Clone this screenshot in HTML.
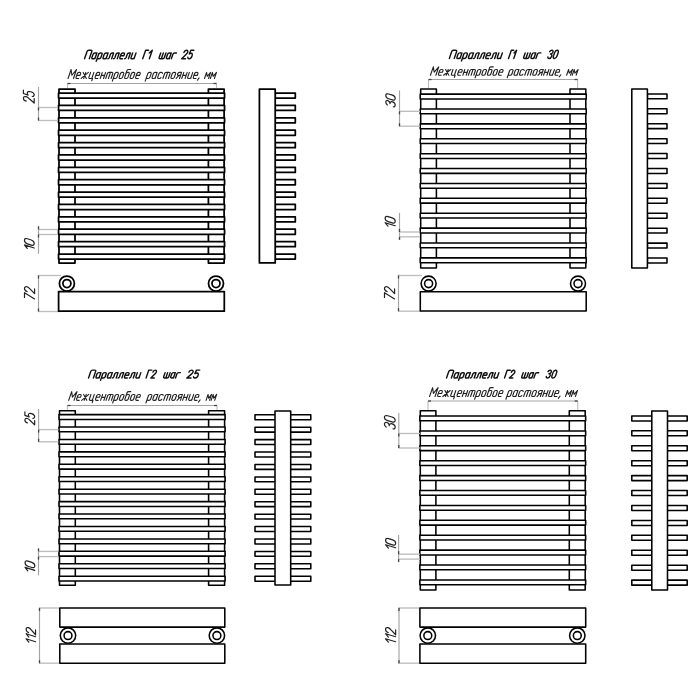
<!DOCTYPE html>
<html><head><meta charset="utf-8"><style>
html,body{margin:0;padding:0;background:#fff;width:700px;height:700px;overflow:hidden}
svg{display:block;will-change:transform}
text{font-family:"Liberation Sans",sans-serif;font-style:italic}
</style></head><body>
<svg width="700" height="700" viewBox="0 0 700 700">
<rect width="700" height="700" fill="#fff"/>
<g id="t1_0" transform="translate(84.52,58.80) skewX(-19) scale(0.9162,0.8600)" fill="none" stroke="#111" stroke-width="1.4" vector-effect="non-scaling-stroke" stroke-linecap="round" stroke-linejoin="round"><path vector-effect="non-scaling-stroke" transform="translate(0.00,0)" d="M0,0 V-8.5 Q0,-10 1.5,-10 H3.7 Q5.2,-10 5.2,-8.5 V0"/><path vector-effect="non-scaling-stroke" transform="translate(7.60,0)" d="M1.5,-6.8 H2.2 Q3.7,-6.8 3.7,-5.3 V-1.5 Q3.7,0 2.2,0 H1.5 Q0,0 0,-1.5 V-5.3 Q0,-6.8 1.5,-6.8 Z M3.7,-6.8 V0"/><path vector-effect="non-scaling-stroke" transform="translate(13.70,0)" d="M1.5,-6.8 H2.2 Q3.7,-6.8 3.7,-5.3 V-1.5 Q3.7,0 2.2,0 H1.5 Q0,0 0,-1.5 V-5.3 Q0,-6.8 1.5,-6.8 Z M0,-5.8 V3"/><path vector-effect="non-scaling-stroke" transform="translate(19.80,0)" d="M1.5,-6.8 H2.2 Q3.7,-6.8 3.7,-5.3 V-1.5 Q3.7,0 2.2,0 H1.5 Q0,0 0,-1.5 V-5.3 Q0,-6.8 1.5,-6.8 Z M3.7,-6.8 V0"/><path vector-effect="non-scaling-stroke" transform="translate(25.90,0)" d="M-0.4,0 Q0.6,0 0.7,-1.6 V-5.3 Q0.7,-6.8 2.2,-6.8 H3.7 V0"/><path vector-effect="non-scaling-stroke" transform="translate(32.00,0)" d="M-0.4,0 Q0.6,0 0.7,-1.6 V-5.3 Q0.7,-6.8 2.2,-6.8 H3.7 V0"/><path vector-effect="non-scaling-stroke" transform="translate(38.10,0)" d="M0.1,-3.5 H3.7 V-5.3 Q3.7,-6.8 2.2,-6.8 H1.5 Q0,-6.8 0,-5.3 V-1.5 Q0,0 1.5,0 H3.4000000000000004"/><path vector-effect="non-scaling-stroke" transform="translate(44.20,0)" d="M-0.4,0 Q0.6,0 0.7,-1.6 V-5.3 Q0.7,-6.8 2.2,-6.8 H3.7 V0"/><path vector-effect="non-scaling-stroke" transform="translate(50.30,0)" d="M0,-6.8 V-1.5 Q0,0 1.5,0 H2.2 Q3.7,0 3.7,-1.5 M3.7,-6.8 V0"/></g>
<g id="t1_1" transform="translate(142.70,58.80) skewX(-19) scale(0.6509,0.8600)" fill="none" stroke="#111" stroke-width="1.4" vector-effect="non-scaling-stroke" stroke-linecap="round" stroke-linejoin="round"><path vector-effect="non-scaling-stroke" transform="translate(0.00,0)" d="M0,0 V-10 H4.6"/><path vector-effect="non-scaling-stroke" transform="translate(7.00,0)" d="M0,-6.8 L3.2,-10 V0"/></g>
<g id="t1_2" transform="translate(158.70,58.80) skewX(-19) scale(0.8702,0.8600)" fill="none" stroke="#111" stroke-width="1.4" vector-effect="non-scaling-stroke" stroke-linecap="round" stroke-linejoin="round"><path vector-effect="non-scaling-stroke" transform="translate(0.00,0)" d="M0,-6.8 V-1.5 Q0,0 1.5,0 H4.5 Q6,0 6,-1.5 V-6.8 M3,-6.8 V0"/><path vector-effect="non-scaling-stroke" transform="translate(8.40,0)" d="M1.5,-6.8 H2.2 Q3.7,-6.8 3.7,-5.3 V-1.5 Q3.7,0 2.2,0 H1.5 Q0,0 0,-1.5 V-5.3 Q0,-6.8 1.5,-6.8 Z M3.7,-6.8 V0"/><path vector-effect="non-scaling-stroke" transform="translate(14.50,0)" d="M0,0 V-5.3 Q0,-6.8 1.5,-6.8 H3.6"/></g>
<g id="t1_3" transform="translate(181.70,58.80) skewX(-19) scale(0.7551,0.8600)" fill="none" stroke="#111" stroke-width="1.4" vector-effect="non-scaling-stroke" stroke-linecap="round" stroke-linejoin="round"><path vector-effect="non-scaling-stroke" transform="translate(0.00,0)" d="M0,-7.4 C0,-9 1.1,-10 2.5,-10 C3.9,-10 5,-9 5,-7.5 C5,-6.3 4.4,-5.5 3.6,-4.6 L0,0 H5"/><path vector-effect="non-scaling-stroke" transform="translate(7.40,0)" d="M4.8,-10 H0.9 L0.4,-5.6 C0.9,-6.1 1.7,-6.4 2.6,-6.4 C4.1,-6.4 5,-5.2 5,-3.2 C5,-1.2 3.9,0 2.5,0 C1.2,0 0.3,-0.7 0,-1.8"/></g>
<g id="s1_0" transform="translate(68.05,78.45) skewX(-19) scale(0.9005,0.8900)" fill="none" stroke="#222" stroke-width="1.1" vector-effect="non-scaling-stroke" stroke-linecap="round" stroke-linejoin="round"><path vector-effect="non-scaling-stroke" transform="translate(0.00,0)" d="M0,0 V-10 L3,-3.6 L6,-10 V0"/><path vector-effect="non-scaling-stroke" transform="translate(8.40,0)" d="M0.1,-3.5 H3.7 V-5.3 Q3.7,-6.8 2.2,-6.8 H1.5 Q0,-6.8 0,-5.3 V-1.5 Q0,0 1.5,0 H3.4000000000000004"/><path vector-effect="non-scaling-stroke" transform="translate(14.50,0)" d="M0,-6.8 L5.8,0 M5.8,-6.8 L0,0 M2.9,-6.8 V0"/><path vector-effect="non-scaling-stroke" transform="translate(22.70,0)" d="M0,-6.8 V-1.5 Q0,0 1.5,0 H4.5 M3.7,-6.8 V0 M4.5,0 V2.6"/><path vector-effect="non-scaling-stroke" transform="translate(29.60,0)" d="M0.1,-3.5 H3.7 V-5.3 Q3.7,-6.8 2.2,-6.8 H1.5 Q0,-6.8 0,-5.3 V-1.5 Q0,0 1.5,0 H3.4000000000000004"/><path vector-effect="non-scaling-stroke" transform="translate(35.70,0)" d="M0,-6.8 V0 M0,-3.4 H3.7 M3.7,-6.8 V0"/><path vector-effect="non-scaling-stroke" transform="translate(41.80,0)" d="M0,0 V-5.3 Q0,-6.8 1.5,-6.8 H4.5 Q6,-6.8 6,-5.3 V0 M3,-6.8 V0"/><path vector-effect="non-scaling-stroke" transform="translate(50.20,0)" d="M1.5,-6.8 H2.2 Q3.7,-6.8 3.7,-5.3 V-1.5 Q3.7,0 2.2,0 H1.5 Q0,0 0,-1.5 V-5.3 Q0,-6.8 1.5,-6.8 Z M0,-5.8 V3"/><path vector-effect="non-scaling-stroke" transform="translate(56.30,0)" d="M1.5,-6.8 H2.2 Q3.7,-6.8 3.7,-5.3 V-1.5 Q3.7,0 2.2,0 H1.5 Q0,0 0,-1.5 V-5.3 Q0,-6.8 1.5,-6.8 Z"/><path vector-effect="non-scaling-stroke" transform="translate(62.40,0)" d="M1.5,-6.8 H2.2 Q3.7,-6.8 3.7,-5.3 V-1.5 Q3.7,0 2.2,0 H1.5 Q0,0 0,-1.5 V-5.3 Q0,-6.8 1.5,-6.8 Z M0,-5.3 V-9 Q0,-10 1.5,-10 H3.7"/><path vector-effect="non-scaling-stroke" transform="translate(68.50,0)" d="M1.5,-6.8 H2.2 Q3.7,-6.8 3.7,-5.3 V-1.5 Q3.7,0 2.2,0 H1.5 Q0,0 0,-1.5 V-5.3 Q0,-6.8 1.5,-6.8 Z"/><path vector-effect="non-scaling-stroke" transform="translate(74.60,0)" d="M0.1,-3.5 H3.7 V-5.3 Q3.7,-6.8 2.2,-6.8 H1.5 Q0,-6.8 0,-5.3 V-1.5 Q0,0 1.5,0 H3.4000000000000004"/></g>
<g id="s1_1" transform="translate(146.13,78.45) skewX(-19) scale(0.9148,0.8900)" fill="none" stroke="#222" stroke-width="1.1" vector-effect="non-scaling-stroke" stroke-linecap="round" stroke-linejoin="round"><path vector-effect="non-scaling-stroke" transform="translate(0.00,0)" d="M1.5,-6.8 H2.2 Q3.7,-6.8 3.7,-5.3 V-1.5 Q3.7,0 2.2,0 H1.5 Q0,0 0,-1.5 V-5.3 Q0,-6.8 1.5,-6.8 Z M0,-5.8 V3"/><path vector-effect="non-scaling-stroke" transform="translate(6.10,0)" d="M1.5,-6.8 H2.2 Q3.7,-6.8 3.7,-5.3 V-1.5 Q3.7,0 2.2,0 H1.5 Q0,0 0,-1.5 V-5.3 Q0,-6.8 1.5,-6.8 Z M3.7,-6.8 V0"/><path vector-effect="non-scaling-stroke" transform="translate(12.20,0)" d="M3.7,-5.6 Q3.5,-6.8 2.2,-6.8 H1.5 Q0,-6.8 0,-5.3 V-1.5 Q0,0 1.5,0 H2.2 Q3.5,0 3.7,-1.2"/><path vector-effect="non-scaling-stroke" transform="translate(18.30,0)" d="M0,0 V-5.3 Q0,-6.8 1.5,-6.8 H4.5 Q6,-6.8 6,-5.3 V0 M3,-6.8 V0"/><path vector-effect="non-scaling-stroke" transform="translate(26.70,0)" d="M1.5,-6.8 H2.2 Q3.7,-6.8 3.7,-5.3 V-1.5 Q3.7,0 2.2,0 H1.5 Q0,0 0,-1.5 V-5.3 Q0,-6.8 1.5,-6.8 Z"/><path vector-effect="non-scaling-stroke" transform="translate(32.80,0)" d="M3.7,0 V-6.8 H1.5 Q0,-6.8 0,-5.3 V-4.8 Q0,-3.4 1.5,-3.4 H3.7 M2,-3.4 L0,0"/><path vector-effect="non-scaling-stroke" transform="translate(38.90,0)" d="M0,-6.8 V0 M0,-3.4 H3.7 M3.7,-6.8 V0"/><path vector-effect="non-scaling-stroke" transform="translate(45.00,0)" d="M0,-6.8 V-1.5 Q0,0 1.5,0 H2.2 Q3.7,0 3.7,-1.5 M3.7,-6.8 V0"/><path vector-effect="non-scaling-stroke" transform="translate(51.10,0)" d="M0.1,-3.5 H3.7 V-5.3 Q3.7,-6.8 2.2,-6.8 H1.5 Q0,-6.8 0,-5.3 V-1.5 Q0,0 1.5,0 H3.4000000000000004"/><path vector-effect="non-scaling-stroke" transform="translate(57.20,0)" d="M0.5,-0.6 L-0.5,2"/></g>
<g id="s1_2" transform="translate(204.49,78.45) skewX(-19) scale(0.7504,0.8900)" fill="none" stroke="#222" stroke-width="1.1" vector-effect="non-scaling-stroke" stroke-linecap="round" stroke-linejoin="round"><path vector-effect="non-scaling-stroke" transform="translate(0.00,0)" d="M0,0 V-6.8 L2.7,-2.4 L5.4,-6.8 V0"/><path vector-effect="non-scaling-stroke" transform="translate(7.80,0)" d="M0,0 V-6.8 L2.7,-2.4 L5.4,-6.8 V0"/></g>
<line x1="67.50" y1="83.50" x2="216.50" y2="83.50" stroke="#a4a4a4" stroke-width="1.15"/>
<line x1="67.50" y1="83.50" x2="67.50" y2="88.00" stroke="#bdbdbd" stroke-width="1.15"/>
<line x1="216.50" y1="83.50" x2="216.50" y2="88.00" stroke="#bdbdbd" stroke-width="1.15"/>
<line x1="67.50" y1="83.50" x2="70.50" y2="83.50" stroke="#444" stroke-width="1.3"/>
<line x1="213.50" y1="83.50" x2="216.50" y2="83.50" stroke="#444" stroke-width="1.3"/>
<rect x="59.00" y="89.00" width="16.00" height="174.00" fill="#fff" stroke="#000" stroke-width="1.75" stroke-linejoin="round"/>
<rect x="208.40" y="89.00" width="15.70" height="174.00" fill="#fff" stroke="#000" stroke-width="1.75" stroke-linejoin="round"/>
<path d="M58.55,93.00 H224.55 V98.10 H58.55 Z" fill="#fff" stroke="#000" stroke-width="1.75" stroke-linejoin="round"/>
<path d="M58.55,105.39 H224.55 V110.48 H58.55 Z" fill="#fff" stroke="#000" stroke-width="1.75" stroke-linejoin="round"/>
<path d="M58.55,117.77 H224.55 V122.87 H58.55 Z" fill="#fff" stroke="#000" stroke-width="1.75" stroke-linejoin="round"/>
<path d="M58.55,130.16 H224.55 V135.25 H58.55 Z" fill="#fff" stroke="#000" stroke-width="1.75" stroke-linejoin="round"/>
<path d="M58.55,142.54 H224.55 V147.64 H58.55 Z" fill="#fff" stroke="#000" stroke-width="1.75" stroke-linejoin="round"/>
<path d="M58.55,154.93 H224.55 V160.03 H58.55 Z" fill="#fff" stroke="#000" stroke-width="1.75" stroke-linejoin="round"/>
<path d="M58.55,167.31 H224.55 V172.41 H58.55 Z" fill="#fff" stroke="#000" stroke-width="1.75" stroke-linejoin="round"/>
<path d="M58.55,179.69 H224.55 V184.79 H58.55 Z" fill="#fff" stroke="#000" stroke-width="1.75" stroke-linejoin="round"/>
<path d="M58.55,192.08 H224.55 V197.18 H58.55 Z" fill="#fff" stroke="#000" stroke-width="1.75" stroke-linejoin="round"/>
<path d="M58.55,204.47 H224.55 V209.56 H58.55 Z" fill="#fff" stroke="#000" stroke-width="1.75" stroke-linejoin="round"/>
<path d="M58.55,216.85 H224.55 V221.95 H58.55 Z" fill="#fff" stroke="#000" stroke-width="1.75" stroke-linejoin="round"/>
<path d="M58.55,229.23 H224.55 V234.33 H58.55 Z" fill="#fff" stroke="#000" stroke-width="1.75" stroke-linejoin="round"/>
<path d="M58.55,241.62 H224.55 V246.72 H58.55 Z" fill="#fff" stroke="#000" stroke-width="1.75" stroke-linejoin="round"/>
<path d="M58.55,254.00 H224.55 V259.11 H58.55 Z" fill="#fff" stroke="#000" stroke-width="1.75" stroke-linejoin="round"/>
<path d="M275.20,93.00 H295.30 V98.10 H275.20 Z" fill="#fff" stroke="#000" stroke-width="1.75" stroke-linejoin="round"/>
<path d="M275.20,105.39 H295.30 V110.48 H275.20 Z" fill="#fff" stroke="#000" stroke-width="1.75" stroke-linejoin="round"/>
<path d="M275.20,117.77 H295.30 V122.87 H275.20 Z" fill="#fff" stroke="#000" stroke-width="1.75" stroke-linejoin="round"/>
<path d="M275.20,130.16 H295.30 V135.25 H275.20 Z" fill="#fff" stroke="#000" stroke-width="1.75" stroke-linejoin="round"/>
<path d="M275.20,142.54 H295.30 V147.64 H275.20 Z" fill="#fff" stroke="#000" stroke-width="1.75" stroke-linejoin="round"/>
<path d="M275.20,154.93 H295.30 V160.03 H275.20 Z" fill="#fff" stroke="#000" stroke-width="1.75" stroke-linejoin="round"/>
<path d="M275.20,167.31 H295.30 V172.41 H275.20 Z" fill="#fff" stroke="#000" stroke-width="1.75" stroke-linejoin="round"/>
<path d="M275.20,179.69 H295.30 V184.79 H275.20 Z" fill="#fff" stroke="#000" stroke-width="1.75" stroke-linejoin="round"/>
<path d="M275.20,192.08 H295.30 V197.18 H275.20 Z" fill="#fff" stroke="#000" stroke-width="1.75" stroke-linejoin="round"/>
<path d="M275.20,204.47 H295.30 V209.56 H275.20 Z" fill="#fff" stroke="#000" stroke-width="1.75" stroke-linejoin="round"/>
<path d="M275.20,216.85 H295.30 V221.95 H275.20 Z" fill="#fff" stroke="#000" stroke-width="1.75" stroke-linejoin="round"/>
<path d="M275.20,229.23 H295.30 V234.33 H275.20 Z" fill="#fff" stroke="#000" stroke-width="1.75" stroke-linejoin="round"/>
<path d="M275.20,241.62 H295.30 V246.72 H275.20 Z" fill="#fff" stroke="#000" stroke-width="1.75" stroke-linejoin="round"/>
<path d="M275.20,254.00 H295.30 V259.11 H275.20 Z" fill="#fff" stroke="#000" stroke-width="1.75" stroke-linejoin="round"/>
<rect x="259.40" y="89.00" width="15.80" height="173.90" fill="#fff" stroke="#000" stroke-width="1.75" stroke-linejoin="round"/>
<line x1="38.50" y1="87.00" x2="38.50" y2="120.50" stroke="#a4a4a4" stroke-width="1.15"/>
<line x1="38.00" y1="107.50" x2="58.00" y2="107.50" stroke="#bdbdbd" stroke-width="1.35"/>
<line x1="38.00" y1="120.50" x2="58.00" y2="120.50" stroke="#bdbdbd" stroke-width="1.35"/>
<line x1="38.50" y1="107.50" x2="38.50" y2="110.50" stroke="#444" stroke-width="1.3"/>
<line x1="38.50" y1="117.50" x2="38.50" y2="120.50" stroke="#444" stroke-width="1.3"/>
<line x1="38.50" y1="226.00" x2="38.50" y2="253.70" stroke="#a4a4a4" stroke-width="1.15"/>
<line x1="38.00" y1="229.50" x2="58.00" y2="229.50" stroke="#bdbdbd" stroke-width="1.35"/>
<line x1="38.00" y1="234.50" x2="58.00" y2="234.50" stroke="#bdbdbd" stroke-width="1.35"/>
<line x1="38.50" y1="226.50" x2="38.50" y2="229.50" stroke="#444" stroke-width="1.3"/>
<line x1="38.50" y1="234.50" x2="38.50" y2="237.50" stroke="#444" stroke-width="1.3"/>
<line x1="38.50" y1="275.00" x2="38.50" y2="311.60" stroke="#a4a4a4" stroke-width="1.15"/>
<line x1="38.00" y1="275.50" x2="61.00" y2="275.50" stroke="#bdbdbd" stroke-width="1.35"/>
<line x1="38.00" y1="311.50" x2="61.00" y2="311.50" stroke="#bdbdbd" stroke-width="1.35"/>
<line x1="38.50" y1="275.50" x2="38.50" y2="278.50" stroke="#444" stroke-width="1.3"/>
<line x1="38.50" y1="308.50" x2="38.50" y2="311.50" stroke="#444" stroke-width="1.3"/>
<g id="r1a" transform="translate(34.20,103.05) rotate(-90) scale(0.870,1.080) skewX(-17)" fill="none" stroke="#222" stroke-width="1.2" vector-effect="non-scaling-stroke" stroke-linecap="round" stroke-linejoin="round"><path vector-effect="non-scaling-stroke" transform="translate(0.00,0)" d="M0,-7.4 C0,-9 1.1,-10 2.5,-10 C3.9,-10 5,-9 5,-7.5 C5,-6.3 4.4,-5.5 3.6,-4.6 L0,0 H5"/><path vector-effect="non-scaling-stroke" transform="translate(7.00,0)" d="M4.8,-10 H0.9 L0.4,-5.6 C0.9,-6.1 1.7,-6.4 2.6,-6.4 C4.1,-6.4 5,-5.2 5,-3.2 C5,-1.2 3.9,0 2.5,0 C1.2,0 0.3,-0.7 0,-1.8"/></g>
<g id="r1b" transform="translate(34.20,251.30) rotate(-90) scale(1.020,0.975) skewX(-17)" fill="none" stroke="#222" stroke-width="1.2" vector-effect="non-scaling-stroke" stroke-linecap="round" stroke-linejoin="round"><path vector-effect="non-scaling-stroke" transform="translate(0.00,0)" d="M0.6,-7.2 L3.2,-10 V0"/><path vector-effect="non-scaling-stroke" transform="translate(5.20,0)" d="M2.5,-10 C4.3,-10 5,-8.6 5,-7 V-3 C5,-1.4 4.3,0 2.5,0 C0.7,0 0,-1.4 0,-3 V-7 C0,-8.6 0.7,-10 2.5,-10 Z"/></g>
<g id="r1c" transform="translate(34.60,300.30) rotate(-90) scale(0.945,1.010) skewX(-17)" fill="none" stroke="#222" stroke-width="1.2" vector-effect="non-scaling-stroke" stroke-linecap="round" stroke-linejoin="round"><path vector-effect="non-scaling-stroke" transform="translate(0.00,0)" d="M0,-10 H5 L1.4,0"/><path vector-effect="non-scaling-stroke" transform="translate(7.00,0)" d="M0,-7.4 C0,-9 1.1,-10 2.5,-10 C3.9,-10 5,-9 5,-7.5 C5,-6.3 4.4,-5.5 3.6,-4.6 L0,0 H5"/></g>
<rect x="58.60" y="291.60" width="165.70" height="19.60" fill="#fff" stroke="#000" stroke-width="1.75" stroke-linejoin="round"/>
<circle cx="66.90" cy="283.50" r="7.50" fill="#fff" stroke="#000" stroke-width="1.75"/>
<circle cx="66.90" cy="283.50" r="4.00" fill="#fff" stroke="#000" stroke-width="1.75"/>
<circle cx="216.00" cy="283.50" r="7.50" fill="#fff" stroke="#000" stroke-width="1.75"/>
<circle cx="216.00" cy="283.50" r="4.00" fill="#fff" stroke="#000" stroke-width="1.75"/>
<g id="t2_0" transform="translate(449.32,58.50) skewX(-19) scale(0.9464,0.8200)" fill="none" stroke="#111" stroke-width="1.4" vector-effect="non-scaling-stroke" stroke-linecap="round" stroke-linejoin="round"><path vector-effect="non-scaling-stroke" transform="translate(0.00,0)" d="M0,0 V-8.5 Q0,-10 1.5,-10 H3.7 Q5.2,-10 5.2,-8.5 V0"/><path vector-effect="non-scaling-stroke" transform="translate(7.60,0)" d="M1.5,-6.8 H2.2 Q3.7,-6.8 3.7,-5.3 V-1.5 Q3.7,0 2.2,0 H1.5 Q0,0 0,-1.5 V-5.3 Q0,-6.8 1.5,-6.8 Z M3.7,-6.8 V0"/><path vector-effect="non-scaling-stroke" transform="translate(13.70,0)" d="M1.5,-6.8 H2.2 Q3.7,-6.8 3.7,-5.3 V-1.5 Q3.7,0 2.2,0 H1.5 Q0,0 0,-1.5 V-5.3 Q0,-6.8 1.5,-6.8 Z M0,-5.8 V3"/><path vector-effect="non-scaling-stroke" transform="translate(19.80,0)" d="M1.5,-6.8 H2.2 Q3.7,-6.8 3.7,-5.3 V-1.5 Q3.7,0 2.2,0 H1.5 Q0,0 0,-1.5 V-5.3 Q0,-6.8 1.5,-6.8 Z M3.7,-6.8 V0"/><path vector-effect="non-scaling-stroke" transform="translate(25.90,0)" d="M-0.4,0 Q0.6,0 0.7,-1.6 V-5.3 Q0.7,-6.8 2.2,-6.8 H3.7 V0"/><path vector-effect="non-scaling-stroke" transform="translate(32.00,0)" d="M-0.4,0 Q0.6,0 0.7,-1.6 V-5.3 Q0.7,-6.8 2.2,-6.8 H3.7 V0"/><path vector-effect="non-scaling-stroke" transform="translate(38.10,0)" d="M0.1,-3.5 H3.7 V-5.3 Q3.7,-6.8 2.2,-6.8 H1.5 Q0,-6.8 0,-5.3 V-1.5 Q0,0 1.5,0 H3.4000000000000004"/><path vector-effect="non-scaling-stroke" transform="translate(44.20,0)" d="M-0.4,0 Q0.6,0 0.7,-1.6 V-5.3 Q0.7,-6.8 2.2,-6.8 H3.7 V0"/><path vector-effect="non-scaling-stroke" transform="translate(50.30,0)" d="M0,-6.8 V-1.5 Q0,0 1.5,0 H2.2 Q3.7,0 3.7,-1.5 M3.7,-6.8 V0"/></g>
<g id="t2_1" transform="translate(508.52,58.50) skewX(-19) scale(0.5173,0.8200)" fill="none" stroke="#111" stroke-width="1.4" vector-effect="non-scaling-stroke" stroke-linecap="round" stroke-linejoin="round"><path vector-effect="non-scaling-stroke" transform="translate(0.00,0)" d="M0,0 V-10 H4.6"/><path vector-effect="non-scaling-stroke" transform="translate(7.00,0)" d="M0,-6.8 L3.2,-10 V0"/></g>
<g id="t2_2" transform="translate(523.26,58.50) skewX(-19) scale(0.8696,0.8200)" fill="none" stroke="#111" stroke-width="1.4" vector-effect="non-scaling-stroke" stroke-linecap="round" stroke-linejoin="round"><path vector-effect="non-scaling-stroke" transform="translate(0.00,0)" d="M0,-6.8 V-1.5 Q0,0 1.5,0 H4.5 Q6,0 6,-1.5 V-6.8 M3,-6.8 V0"/><path vector-effect="non-scaling-stroke" transform="translate(8.40,0)" d="M1.5,-6.8 H2.2 Q3.7,-6.8 3.7,-5.3 V-1.5 Q3.7,0 2.2,0 H1.5 Q0,0 0,-1.5 V-5.3 Q0,-6.8 1.5,-6.8 Z M3.7,-6.8 V0"/><path vector-effect="non-scaling-stroke" transform="translate(14.50,0)" d="M0,0 V-5.3 Q0,-6.8 1.5,-6.8 H3.6"/></g>
<g id="t2_3" transform="translate(547.32,58.50) skewX(-19) scale(0.7141,0.8200)" fill="none" stroke="#111" stroke-width="1.4" vector-effect="non-scaling-stroke" stroke-linecap="round" stroke-linejoin="round"><path vector-effect="non-scaling-stroke" transform="translate(0.00,0)" d="M0,-8.3 C0.3,-9.4 1.2,-10 2.5,-10 C3.9,-10 4.8,-9.1 4.8,-7.8 C4.8,-6.4 3.8,-5.5 2.3,-5.5 C4,-5.5 5,-4.3 5,-2.8 C5,-1.1 3.9,0 2.5,0 C1.1,0 0.2,-0.8 0,-2"/><path vector-effect="non-scaling-stroke" transform="translate(7.40,0)" d="M2.5,-10 C4.3,-10 5,-8.6 5,-7 V-3 C5,-1.4 4.3,0 2.5,0 C0.7,0 0,-1.4 0,-3 V-7 C0,-8.6 0.7,-10 2.5,-10 Z"/></g>
<g id="s2_0" transform="translate(430.43,75.25) skewX(-19) scale(0.9073,0.8400)" fill="none" stroke="#222" stroke-width="1.1" vector-effect="non-scaling-stroke" stroke-linecap="round" stroke-linejoin="round"><path vector-effect="non-scaling-stroke" transform="translate(0.00,0)" d="M0,0 V-10 L3,-3.6 L6,-10 V0"/><path vector-effect="non-scaling-stroke" transform="translate(8.40,0)" d="M0.1,-3.5 H3.7 V-5.3 Q3.7,-6.8 2.2,-6.8 H1.5 Q0,-6.8 0,-5.3 V-1.5 Q0,0 1.5,0 H3.4000000000000004"/><path vector-effect="non-scaling-stroke" transform="translate(14.50,0)" d="M0,-6.8 L5.8,0 M5.8,-6.8 L0,0 M2.9,-6.8 V0"/><path vector-effect="non-scaling-stroke" transform="translate(22.70,0)" d="M0,-6.8 V-1.5 Q0,0 1.5,0 H4.5 M3.7,-6.8 V0 M4.5,0 V2.6"/><path vector-effect="non-scaling-stroke" transform="translate(29.60,0)" d="M0.1,-3.5 H3.7 V-5.3 Q3.7,-6.8 2.2,-6.8 H1.5 Q0,-6.8 0,-5.3 V-1.5 Q0,0 1.5,0 H3.4000000000000004"/><path vector-effect="non-scaling-stroke" transform="translate(35.70,0)" d="M0,-6.8 V0 M0,-3.4 H3.7 M3.7,-6.8 V0"/><path vector-effect="non-scaling-stroke" transform="translate(41.80,0)" d="M0,0 V-5.3 Q0,-6.8 1.5,-6.8 H4.5 Q6,-6.8 6,-5.3 V0 M3,-6.8 V0"/><path vector-effect="non-scaling-stroke" transform="translate(50.20,0)" d="M1.5,-6.8 H2.2 Q3.7,-6.8 3.7,-5.3 V-1.5 Q3.7,0 2.2,0 H1.5 Q0,0 0,-1.5 V-5.3 Q0,-6.8 1.5,-6.8 Z M0,-5.8 V3"/><path vector-effect="non-scaling-stroke" transform="translate(56.30,0)" d="M1.5,-6.8 H2.2 Q3.7,-6.8 3.7,-5.3 V-1.5 Q3.7,0 2.2,0 H1.5 Q0,0 0,-1.5 V-5.3 Q0,-6.8 1.5,-6.8 Z"/><path vector-effect="non-scaling-stroke" transform="translate(62.40,0)" d="M1.5,-6.8 H2.2 Q3.7,-6.8 3.7,-5.3 V-1.5 Q3.7,0 2.2,0 H1.5 Q0,0 0,-1.5 V-5.3 Q0,-6.8 1.5,-6.8 Z M0,-5.3 V-9 Q0,-10 1.5,-10 H3.7"/><path vector-effect="non-scaling-stroke" transform="translate(68.50,0)" d="M1.5,-6.8 H2.2 Q3.7,-6.8 3.7,-5.3 V-1.5 Q3.7,0 2.2,0 H1.5 Q0,0 0,-1.5 V-5.3 Q0,-6.8 1.5,-6.8 Z"/><path vector-effect="non-scaling-stroke" transform="translate(74.60,0)" d="M0.1,-3.5 H3.7 V-5.3 Q3.7,-6.8 2.2,-6.8 H1.5 Q0,-6.8 0,-5.3 V-1.5 Q0,0 1.5,0 H3.4000000000000004"/></g>
<g id="s2_1" transform="translate(508.07,75.25) skewX(-19) scale(0.9119,0.8400)" fill="none" stroke="#222" stroke-width="1.1" vector-effect="non-scaling-stroke" stroke-linecap="round" stroke-linejoin="round"><path vector-effect="non-scaling-stroke" transform="translate(0.00,0)" d="M1.5,-6.8 H2.2 Q3.7,-6.8 3.7,-5.3 V-1.5 Q3.7,0 2.2,0 H1.5 Q0,0 0,-1.5 V-5.3 Q0,-6.8 1.5,-6.8 Z M0,-5.8 V3"/><path vector-effect="non-scaling-stroke" transform="translate(6.10,0)" d="M1.5,-6.8 H2.2 Q3.7,-6.8 3.7,-5.3 V-1.5 Q3.7,0 2.2,0 H1.5 Q0,0 0,-1.5 V-5.3 Q0,-6.8 1.5,-6.8 Z M3.7,-6.8 V0"/><path vector-effect="non-scaling-stroke" transform="translate(12.20,0)" d="M3.7,-5.6 Q3.5,-6.8 2.2,-6.8 H1.5 Q0,-6.8 0,-5.3 V-1.5 Q0,0 1.5,0 H2.2 Q3.5,0 3.7,-1.2"/><path vector-effect="non-scaling-stroke" transform="translate(18.30,0)" d="M0,0 V-5.3 Q0,-6.8 1.5,-6.8 H4.5 Q6,-6.8 6,-5.3 V0 M3,-6.8 V0"/><path vector-effect="non-scaling-stroke" transform="translate(26.70,0)" d="M1.5,-6.8 H2.2 Q3.7,-6.8 3.7,-5.3 V-1.5 Q3.7,0 2.2,0 H1.5 Q0,0 0,-1.5 V-5.3 Q0,-6.8 1.5,-6.8 Z"/><path vector-effect="non-scaling-stroke" transform="translate(32.80,0)" d="M3.7,0 V-6.8 H1.5 Q0,-6.8 0,-5.3 V-4.8 Q0,-3.4 1.5,-3.4 H3.7 M2,-3.4 L0,0"/><path vector-effect="non-scaling-stroke" transform="translate(38.90,0)" d="M0,-6.8 V0 M0,-3.4 H3.7 M3.7,-6.8 V0"/><path vector-effect="non-scaling-stroke" transform="translate(45.00,0)" d="M0,-6.8 V-1.5 Q0,0 1.5,0 H2.2 Q3.7,0 3.7,-1.5 M3.7,-6.8 V0"/><path vector-effect="non-scaling-stroke" transform="translate(51.10,0)" d="M0.1,-3.5 H3.7 V-5.3 Q3.7,-6.8 2.2,-6.8 H1.5 Q0,-6.8 0,-5.3 V-1.5 Q0,0 1.5,0 H3.4000000000000004"/><path vector-effect="non-scaling-stroke" transform="translate(57.20,0)" d="M0.5,-0.6 L-0.5,2"/></g>
<g id="s2_2" transform="translate(566.61,75.25) skewX(-19) scale(0.7219,0.8400)" fill="none" stroke="#222" stroke-width="1.1" vector-effect="non-scaling-stroke" stroke-linecap="round" stroke-linejoin="round"><path vector-effect="non-scaling-stroke" transform="translate(0.00,0)" d="M0,0 V-6.8 L2.7,-2.4 L5.4,-6.8 V0"/><path vector-effect="non-scaling-stroke" transform="translate(7.80,0)" d="M0,0 V-6.8 L2.7,-2.4 L5.4,-6.8 V0"/></g>
<line x1="428.50" y1="79.50" x2="577.60" y2="79.50" stroke="#a4a4a4" stroke-width="1.15"/>
<line x1="428.50" y1="79.50" x2="428.50" y2="88.00" stroke="#bdbdbd" stroke-width="1.15"/>
<line x1="577.60" y1="79.50" x2="577.60" y2="88.00" stroke="#bdbdbd" stroke-width="1.15"/>
<line x1="428.50" y1="79.50" x2="431.50" y2="79.50" stroke="#444" stroke-width="1.3"/>
<line x1="574.60" y1="79.50" x2="577.60" y2="79.50" stroke="#444" stroke-width="1.3"/>
<rect x="420.70" y="88.90" width="15.70" height="179.10" fill="#fff" stroke="#000" stroke-width="1.55" stroke-linejoin="round"/>
<rect x="570.00" y="88.90" width="15.80" height="179.10" fill="#fff" stroke="#000" stroke-width="1.55" stroke-linejoin="round"/>
<path d="M420.25,94.10 H586.25 V98.90 H420.25 Z" fill="#fff" stroke="#000" stroke-width="1.55" stroke-linejoin="round"/>
<path d="M420.25,108.99 H586.25 V113.79 H420.25 Z" fill="#fff" stroke="#000" stroke-width="1.55" stroke-linejoin="round"/>
<path d="M420.25,123.88 H586.25 V128.68 H420.25 Z" fill="#fff" stroke="#000" stroke-width="1.55" stroke-linejoin="round"/>
<path d="M420.25,138.77 H586.25 V143.57 H420.25 Z" fill="#fff" stroke="#000" stroke-width="1.55" stroke-linejoin="round"/>
<path d="M420.25,153.66 H586.25 V158.46 H420.25 Z" fill="#fff" stroke="#000" stroke-width="1.55" stroke-linejoin="round"/>
<path d="M420.25,168.55 H586.25 V173.35 H420.25 Z" fill="#fff" stroke="#000" stroke-width="1.55" stroke-linejoin="round"/>
<path d="M420.25,183.44 H586.25 V188.24 H420.25 Z" fill="#fff" stroke="#000" stroke-width="1.55" stroke-linejoin="round"/>
<path d="M420.25,198.33 H586.25 V203.13 H420.25 Z" fill="#fff" stroke="#000" stroke-width="1.55" stroke-linejoin="round"/>
<path d="M420.25,213.22 H586.25 V218.02 H420.25 Z" fill="#fff" stroke="#000" stroke-width="1.55" stroke-linejoin="round"/>
<path d="M420.25,228.11 H586.25 V232.91 H420.25 Z" fill="#fff" stroke="#000" stroke-width="1.55" stroke-linejoin="round"/>
<path d="M420.25,243.00 H586.25 V247.80 H420.25 Z" fill="#fff" stroke="#000" stroke-width="1.55" stroke-linejoin="round"/>
<path d="M420.25,257.89 H586.25 V262.69 H420.25 Z" fill="#fff" stroke="#000" stroke-width="1.55" stroke-linejoin="round"/>
<path d="M647.40,93.90 H667.00 V98.80 H647.40 Z" fill="#fff" stroke="#000" stroke-width="1.55" stroke-linejoin="round"/>
<path d="M647.40,108.82 H667.00 V113.72 H647.40 Z" fill="#fff" stroke="#000" stroke-width="1.55" stroke-linejoin="round"/>
<path d="M647.40,123.74 H667.00 V128.64 H647.40 Z" fill="#fff" stroke="#000" stroke-width="1.55" stroke-linejoin="round"/>
<path d="M647.40,138.66 H667.00 V143.56 H647.40 Z" fill="#fff" stroke="#000" stroke-width="1.55" stroke-linejoin="round"/>
<path d="M647.40,153.58 H667.00 V158.48 H647.40 Z" fill="#fff" stroke="#000" stroke-width="1.55" stroke-linejoin="round"/>
<path d="M647.40,168.50 H667.00 V173.40 H647.40 Z" fill="#fff" stroke="#000" stroke-width="1.55" stroke-linejoin="round"/>
<path d="M647.40,183.42 H667.00 V188.32 H647.40 Z" fill="#fff" stroke="#000" stroke-width="1.55" stroke-linejoin="round"/>
<path d="M647.40,198.34 H667.00 V203.24 H647.40 Z" fill="#fff" stroke="#000" stroke-width="1.55" stroke-linejoin="round"/>
<path d="M647.40,213.26 H667.00 V218.16 H647.40 Z" fill="#fff" stroke="#000" stroke-width="1.55" stroke-linejoin="round"/>
<path d="M647.40,228.18 H667.00 V233.08 H647.40 Z" fill="#fff" stroke="#000" stroke-width="1.55" stroke-linejoin="round"/>
<path d="M647.40,243.10 H667.00 V248.00 H647.40 Z" fill="#fff" stroke="#000" stroke-width="1.55" stroke-linejoin="round"/>
<path d="M647.40,258.02 H667.00 V262.92 H647.40 Z" fill="#fff" stroke="#000" stroke-width="1.55" stroke-linejoin="round"/>
<rect x="631.80" y="89.00" width="15.60" height="179.00" fill="#fff" stroke="#000" stroke-width="1.55" stroke-linejoin="round"/>
<line x1="399.50" y1="90.50" x2="399.50" y2="126.50" stroke="#a4a4a4" stroke-width="1.15"/>
<line x1="399.00" y1="111.30" x2="420.00" y2="111.30" stroke="#bdbdbd" stroke-width="1.35"/>
<line x1="399.00" y1="126.20" x2="420.00" y2="126.20" stroke="#bdbdbd" stroke-width="1.35"/>
<line x1="399.50" y1="111.30" x2="399.50" y2="114.30" stroke="#444" stroke-width="1.3"/>
<line x1="399.50" y1="123.20" x2="399.50" y2="126.20" stroke="#444" stroke-width="1.3"/>
<line x1="399.50" y1="213.00" x2="399.50" y2="240.00" stroke="#a4a4a4" stroke-width="1.15"/>
<line x1="399.00" y1="232.00" x2="420.00" y2="232.00" stroke="#bdbdbd" stroke-width="1.35"/>
<line x1="399.00" y1="236.80" x2="420.00" y2="236.80" stroke="#bdbdbd" stroke-width="1.35"/>
<line x1="399.50" y1="229.00" x2="399.50" y2="232.00" stroke="#444" stroke-width="1.3"/>
<line x1="399.50" y1="236.80" x2="399.50" y2="239.80" stroke="#444" stroke-width="1.3"/>
<line x1="398.50" y1="274.90" x2="398.50" y2="311.70" stroke="#a4a4a4" stroke-width="1.15"/>
<line x1="398.00" y1="275.50" x2="422.00" y2="275.50" stroke="#bdbdbd" stroke-width="1.35"/>
<line x1="398.00" y1="311.20" x2="422.00" y2="311.20" stroke="#bdbdbd" stroke-width="1.35"/>
<line x1="398.50" y1="275.50" x2="398.50" y2="278.50" stroke="#444" stroke-width="1.3"/>
<line x1="398.50" y1="308.20" x2="398.50" y2="311.20" stroke="#444" stroke-width="1.3"/>
<g id="r2a" transform="translate(395.20,107.35) rotate(-90) scale(0.945,0.940) skewX(-17)" fill="none" stroke="#222" stroke-width="1.2" vector-effect="non-scaling-stroke" stroke-linecap="round" stroke-linejoin="round"><path vector-effect="non-scaling-stroke" transform="translate(0.00,0)" d="M0,-8.3 C0.3,-9.4 1.2,-10 2.5,-10 C3.9,-10 4.8,-9.1 4.8,-7.8 C4.8,-6.4 3.8,-5.5 2.3,-5.5 C4,-5.5 5,-4.3 5,-2.8 C5,-1.1 3.9,0 2.5,0 C1.1,0 0.2,-0.8 0,-2"/><path vector-effect="non-scaling-stroke" transform="translate(7.00,0)" d="M2.5,-10 C4.3,-10 5,-8.6 5,-7 V-3 C5,-1.4 4.3,0 2.5,0 C0.7,0 0,-1.4 0,-3 V-7 C0,-8.6 0.7,-10 2.5,-10 Z"/></g>
<g id="r2b" transform="translate(395.20,228.95) rotate(-90) scale(0.995,1.010) skewX(-17)" fill="none" stroke="#222" stroke-width="1.2" vector-effect="non-scaling-stroke" stroke-linecap="round" stroke-linejoin="round"><path vector-effect="non-scaling-stroke" transform="translate(0.00,0)" d="M0.6,-7.2 L3.2,-10 V0"/><path vector-effect="non-scaling-stroke" transform="translate(5.20,0)" d="M2.5,-10 C4.3,-10 5,-8.6 5,-7 V-3 C5,-1.4 4.3,0 2.5,0 C0.7,0 0,-1.4 0,-3 V-7 C0,-8.6 0.7,-10 2.5,-10 Z"/></g>
<g id="r2c" transform="translate(394.60,300.30) rotate(-90) scale(0.945,1.010) skewX(-17)" fill="none" stroke="#222" stroke-width="1.2" vector-effect="non-scaling-stroke" stroke-linecap="round" stroke-linejoin="round"><path vector-effect="non-scaling-stroke" transform="translate(0.00,0)" d="M0,-10 H5 L1.4,0"/><path vector-effect="non-scaling-stroke" transform="translate(7.00,0)" d="M0,-7.4 C0,-9 1.1,-10 2.5,-10 C3.9,-10 5,-9 5,-7.5 C5,-6.3 4.4,-5.5 3.6,-4.6 L0,0 H5"/></g>
<rect x="420.30" y="291.80" width="165.90" height="19.10" fill="#fff" stroke="#000" stroke-width="1.55" stroke-linejoin="round"/>
<circle cx="428.60" cy="283.60" r="7.50" fill="#fff" stroke="#000" stroke-width="1.55"/>
<circle cx="428.60" cy="283.60" r="4.00" fill="#fff" stroke="#000" stroke-width="1.55"/>
<circle cx="578.00" cy="283.60" r="7.50" fill="#fff" stroke="#000" stroke-width="1.55"/>
<circle cx="578.00" cy="283.60" r="4.00" fill="#fff" stroke="#000" stroke-width="1.55"/>
<g id="t3_0" transform="translate(88.52,378.00) skewX(-19) scale(0.9345,0.7900)" fill="none" stroke="#111" stroke-width="1.4" vector-effect="non-scaling-stroke" stroke-linecap="round" stroke-linejoin="round"><path vector-effect="non-scaling-stroke" transform="translate(0.00,0)" d="M0,0 V-8.5 Q0,-10 1.5,-10 H3.7 Q5.2,-10 5.2,-8.5 V0"/><path vector-effect="non-scaling-stroke" transform="translate(7.60,0)" d="M1.5,-6.8 H2.2 Q3.7,-6.8 3.7,-5.3 V-1.5 Q3.7,0 2.2,0 H1.5 Q0,0 0,-1.5 V-5.3 Q0,-6.8 1.5,-6.8 Z M3.7,-6.8 V0"/><path vector-effect="non-scaling-stroke" transform="translate(13.70,0)" d="M1.5,-6.8 H2.2 Q3.7,-6.8 3.7,-5.3 V-1.5 Q3.7,0 2.2,0 H1.5 Q0,0 0,-1.5 V-5.3 Q0,-6.8 1.5,-6.8 Z M0,-5.8 V3"/><path vector-effect="non-scaling-stroke" transform="translate(19.80,0)" d="M1.5,-6.8 H2.2 Q3.7,-6.8 3.7,-5.3 V-1.5 Q3.7,0 2.2,0 H1.5 Q0,0 0,-1.5 V-5.3 Q0,-6.8 1.5,-6.8 Z M3.7,-6.8 V0"/><path vector-effect="non-scaling-stroke" transform="translate(25.90,0)" d="M-0.4,0 Q0.6,0 0.7,-1.6 V-5.3 Q0.7,-6.8 2.2,-6.8 H3.7 V0"/><path vector-effect="non-scaling-stroke" transform="translate(32.00,0)" d="M-0.4,0 Q0.6,0 0.7,-1.6 V-5.3 Q0.7,-6.8 2.2,-6.8 H3.7 V0"/><path vector-effect="non-scaling-stroke" transform="translate(38.10,0)" d="M0.1,-3.5 H3.7 V-5.3 Q3.7,-6.8 2.2,-6.8 H1.5 Q0,-6.8 0,-5.3 V-1.5 Q0,0 1.5,0 H3.4000000000000004"/><path vector-effect="non-scaling-stroke" transform="translate(44.20,0)" d="M-0.4,0 Q0.6,0 0.7,-1.6 V-5.3 Q0.7,-6.8 2.2,-6.8 H3.7 V0"/><path vector-effect="non-scaling-stroke" transform="translate(50.30,0)" d="M0,-6.8 V-1.5 Q0,0 1.5,0 H2.2 Q3.7,0 3.7,-1.5 M3.7,-6.8 V0"/></g>
<g id="t3_1" transform="translate(146.08,378.00) skewX(-19) scale(0.6843,0.7900)" fill="none" stroke="#111" stroke-width="1.4" vector-effect="non-scaling-stroke" stroke-linecap="round" stroke-linejoin="round"><path vector-effect="non-scaling-stroke" transform="translate(0.00,0)" d="M0,0 V-10 H4.6"/><path vector-effect="non-scaling-stroke" transform="translate(7.00,0)" d="M0,-7.4 C0,-9 1.1,-10 2.5,-10 C3.9,-10 5,-9 5,-7.5 C5,-6.3 4.4,-5.5 3.6,-4.6 L0,0 H5"/></g>
<g id="t3_2" transform="translate(163.26,378.00) skewX(-19) scale(0.8439,0.7900)" fill="none" stroke="#111" stroke-width="1.4" vector-effect="non-scaling-stroke" stroke-linecap="round" stroke-linejoin="round"><path vector-effect="non-scaling-stroke" transform="translate(0.00,0)" d="M0,-6.8 V-1.5 Q0,0 1.5,0 H4.5 Q6,0 6,-1.5 V-6.8 M3,-6.8 V0"/><path vector-effect="non-scaling-stroke" transform="translate(8.40,0)" d="M1.5,-6.8 H2.2 Q3.7,-6.8 3.7,-5.3 V-1.5 Q3.7,0 2.2,0 H1.5 Q0,0 0,-1.5 V-5.3 Q0,-6.8 1.5,-6.8 Z M3.7,-6.8 V0"/><path vector-effect="non-scaling-stroke" transform="translate(14.50,0)" d="M0,0 V-5.3 Q0,-6.8 1.5,-6.8 H3.6"/></g>
<g id="t3_3" transform="translate(186.82,378.00) skewX(-19) scale(0.8384,0.7900)" fill="none" stroke="#111" stroke-width="1.4" vector-effect="non-scaling-stroke" stroke-linecap="round" stroke-linejoin="round"><path vector-effect="non-scaling-stroke" transform="translate(0.00,0)" d="M0,-7.4 C0,-9 1.1,-10 2.5,-10 C3.9,-10 5,-9 5,-7.5 C5,-6.3 4.4,-5.5 3.6,-4.6 L0,0 H5"/><path vector-effect="non-scaling-stroke" transform="translate(7.40,0)" d="M4.8,-10 H0.9 L0.4,-5.6 C0.9,-6.1 1.7,-6.4 2.6,-6.4 C4.1,-6.4 5,-5.2 5,-3.2 C5,-1.2 3.9,0 2.5,0 C1.2,0 0.3,-0.7 0,-1.8"/></g>
<g id="s3_0" transform="translate(68.67,400.35) skewX(-19) scale(0.8942,0.8700)" fill="none" stroke="#222" stroke-width="1.1" vector-effect="non-scaling-stroke" stroke-linecap="round" stroke-linejoin="round"><path vector-effect="non-scaling-stroke" transform="translate(0.00,0)" d="M0,0 V-10 L3,-3.6 L6,-10 V0"/><path vector-effect="non-scaling-stroke" transform="translate(8.40,0)" d="M0.1,-3.5 H3.7 V-5.3 Q3.7,-6.8 2.2,-6.8 H1.5 Q0,-6.8 0,-5.3 V-1.5 Q0,0 1.5,0 H3.4000000000000004"/><path vector-effect="non-scaling-stroke" transform="translate(14.50,0)" d="M0,-6.8 L5.8,0 M5.8,-6.8 L0,0 M2.9,-6.8 V0"/><path vector-effect="non-scaling-stroke" transform="translate(22.70,0)" d="M0,-6.8 V-1.5 Q0,0 1.5,0 H4.5 M3.7,-6.8 V0 M4.5,0 V2.6"/><path vector-effect="non-scaling-stroke" transform="translate(29.60,0)" d="M0.1,-3.5 H3.7 V-5.3 Q3.7,-6.8 2.2,-6.8 H1.5 Q0,-6.8 0,-5.3 V-1.5 Q0,0 1.5,0 H3.4000000000000004"/><path vector-effect="non-scaling-stroke" transform="translate(35.70,0)" d="M0,-6.8 V0 M0,-3.4 H3.7 M3.7,-6.8 V0"/><path vector-effect="non-scaling-stroke" transform="translate(41.80,0)" d="M0,0 V-5.3 Q0,-6.8 1.5,-6.8 H4.5 Q6,-6.8 6,-5.3 V0 M3,-6.8 V0"/><path vector-effect="non-scaling-stroke" transform="translate(50.20,0)" d="M1.5,-6.8 H2.2 Q3.7,-6.8 3.7,-5.3 V-1.5 Q3.7,0 2.2,0 H1.5 Q0,0 0,-1.5 V-5.3 Q0,-6.8 1.5,-6.8 Z M0,-5.8 V3"/><path vector-effect="non-scaling-stroke" transform="translate(56.30,0)" d="M1.5,-6.8 H2.2 Q3.7,-6.8 3.7,-5.3 V-1.5 Q3.7,0 2.2,0 H1.5 Q0,0 0,-1.5 V-5.3 Q0,-6.8 1.5,-6.8 Z"/><path vector-effect="non-scaling-stroke" transform="translate(62.40,0)" d="M1.5,-6.8 H2.2 Q3.7,-6.8 3.7,-5.3 V-1.5 Q3.7,0 2.2,0 H1.5 Q0,0 0,-1.5 V-5.3 Q0,-6.8 1.5,-6.8 Z M0,-5.3 V-9 Q0,-10 1.5,-10 H3.7"/><path vector-effect="non-scaling-stroke" transform="translate(68.50,0)" d="M1.5,-6.8 H2.2 Q3.7,-6.8 3.7,-5.3 V-1.5 Q3.7,0 2.2,0 H1.5 Q0,0 0,-1.5 V-5.3 Q0,-6.8 1.5,-6.8 Z"/><path vector-effect="non-scaling-stroke" transform="translate(74.60,0)" d="M0.1,-3.5 H3.7 V-5.3 Q3.7,-6.8 2.2,-6.8 H1.5 Q0,-6.8 0,-5.3 V-1.5 Q0,0 1.5,0 H3.4000000000000004"/></g>
<g id="s3_1" transform="translate(146.81,400.35) skewX(-19) scale(0.9208,0.8700)" fill="none" stroke="#222" stroke-width="1.1" vector-effect="non-scaling-stroke" stroke-linecap="round" stroke-linejoin="round"><path vector-effect="non-scaling-stroke" transform="translate(0.00,0)" d="M1.5,-6.8 H2.2 Q3.7,-6.8 3.7,-5.3 V-1.5 Q3.7,0 2.2,0 H1.5 Q0,0 0,-1.5 V-5.3 Q0,-6.8 1.5,-6.8 Z M0,-5.8 V3"/><path vector-effect="non-scaling-stroke" transform="translate(6.10,0)" d="M1.5,-6.8 H2.2 Q3.7,-6.8 3.7,-5.3 V-1.5 Q3.7,0 2.2,0 H1.5 Q0,0 0,-1.5 V-5.3 Q0,-6.8 1.5,-6.8 Z M3.7,-6.8 V0"/><path vector-effect="non-scaling-stroke" transform="translate(12.20,0)" d="M3.7,-5.6 Q3.5,-6.8 2.2,-6.8 H1.5 Q0,-6.8 0,-5.3 V-1.5 Q0,0 1.5,0 H2.2 Q3.5,0 3.7,-1.2"/><path vector-effect="non-scaling-stroke" transform="translate(18.30,0)" d="M0,0 V-5.3 Q0,-6.8 1.5,-6.8 H4.5 Q6,-6.8 6,-5.3 V0 M3,-6.8 V0"/><path vector-effect="non-scaling-stroke" transform="translate(26.70,0)" d="M1.5,-6.8 H2.2 Q3.7,-6.8 3.7,-5.3 V-1.5 Q3.7,0 2.2,0 H1.5 Q0,0 0,-1.5 V-5.3 Q0,-6.8 1.5,-6.8 Z"/><path vector-effect="non-scaling-stroke" transform="translate(32.80,0)" d="M3.7,0 V-6.8 H1.5 Q0,-6.8 0,-5.3 V-4.8 Q0,-3.4 1.5,-3.4 H3.7 M2,-3.4 L0,0"/><path vector-effect="non-scaling-stroke" transform="translate(38.90,0)" d="M0,-6.8 V0 M0,-3.4 H3.7 M3.7,-6.8 V0"/><path vector-effect="non-scaling-stroke" transform="translate(45.00,0)" d="M0,-6.8 V-1.5 Q0,0 1.5,0 H2.2 Q3.7,0 3.7,-1.5 M3.7,-6.8 V0"/><path vector-effect="non-scaling-stroke" transform="translate(51.10,0)" d="M0.1,-3.5 H3.7 V-5.3 Q3.7,-6.8 2.2,-6.8 H1.5 Q0,-6.8 0,-5.3 V-1.5 Q0,0 1.5,0 H3.4000000000000004"/><path vector-effect="non-scaling-stroke" transform="translate(57.20,0)" d="M0.5,-0.6 L-0.5,2"/></g>
<g id="s3_2" transform="translate(206.05,400.35) skewX(-19) scale(0.6522,0.8700)" fill="none" stroke="#222" stroke-width="1.1" vector-effect="non-scaling-stroke" stroke-linecap="round" stroke-linejoin="round"><path vector-effect="non-scaling-stroke" transform="translate(0.00,0)" d="M0,0 V-6.8 L2.7,-2.4 L5.4,-6.8 V0"/><path vector-effect="non-scaling-stroke" transform="translate(7.80,0)" d="M0,0 V-6.8 L2.7,-2.4 L5.4,-6.8 V0"/></g>
<line x1="67.50" y1="405.50" x2="217.00" y2="405.50" stroke="#a4a4a4" stroke-width="1.15"/>
<line x1="67.50" y1="405.50" x2="67.50" y2="410.00" stroke="#bdbdbd" stroke-width="1.15"/>
<line x1="217.00" y1="405.50" x2="217.00" y2="410.00" stroke="#bdbdbd" stroke-width="1.15"/>
<line x1="67.50" y1="405.50" x2="70.50" y2="405.50" stroke="#444" stroke-width="1.3"/>
<line x1="214.00" y1="405.50" x2="217.00" y2="405.50" stroke="#444" stroke-width="1.3"/>
<rect x="59.50" y="410.70" width="15.80" height="174.50" fill="#fff" stroke="#000" stroke-width="1.55" stroke-linejoin="round"/>
<rect x="208.60" y="410.70" width="16.00" height="174.50" fill="#fff" stroke="#000" stroke-width="1.55" stroke-linejoin="round"/>
<path d="M59.05,414.60 H225.05 V419.40 H59.05 Z" fill="#fff" stroke="#000" stroke-width="1.55" stroke-linejoin="round"/>
<path d="M59.05,427.03 H225.05 V431.83 H59.05 Z" fill="#fff" stroke="#000" stroke-width="1.55" stroke-linejoin="round"/>
<path d="M59.05,439.46 H225.05 V444.26 H59.05 Z" fill="#fff" stroke="#000" stroke-width="1.55" stroke-linejoin="round"/>
<path d="M59.05,451.89 H225.05 V456.69 H59.05 Z" fill="#fff" stroke="#000" stroke-width="1.55" stroke-linejoin="round"/>
<path d="M59.05,464.32 H225.05 V469.12 H59.05 Z" fill="#fff" stroke="#000" stroke-width="1.55" stroke-linejoin="round"/>
<path d="M59.05,476.75 H225.05 V481.55 H59.05 Z" fill="#fff" stroke="#000" stroke-width="1.55" stroke-linejoin="round"/>
<path d="M59.05,489.18 H225.05 V493.98 H59.05 Z" fill="#fff" stroke="#000" stroke-width="1.55" stroke-linejoin="round"/>
<path d="M59.05,501.61 H225.05 V506.41 H59.05 Z" fill="#fff" stroke="#000" stroke-width="1.55" stroke-linejoin="round"/>
<path d="M59.05,514.04 H225.05 V518.84 H59.05 Z" fill="#fff" stroke="#000" stroke-width="1.55" stroke-linejoin="round"/>
<path d="M59.05,526.47 H225.05 V531.27 H59.05 Z" fill="#fff" stroke="#000" stroke-width="1.55" stroke-linejoin="round"/>
<path d="M59.05,538.90 H225.05 V543.70 H59.05 Z" fill="#fff" stroke="#000" stroke-width="1.55" stroke-linejoin="round"/>
<path d="M59.05,551.33 H225.05 V556.13 H59.05 Z" fill="#fff" stroke="#000" stroke-width="1.55" stroke-linejoin="round"/>
<path d="M59.05,563.76 H225.05 V568.56 H59.05 Z" fill="#fff" stroke="#000" stroke-width="1.55" stroke-linejoin="round"/>
<path d="M59.05,576.19 H225.05 V580.99 H59.05 Z" fill="#fff" stroke="#000" stroke-width="1.55" stroke-linejoin="round"/>
<path d="M255.00,414.80 H310.80 V419.70 H255.00 Z" fill="#fff" stroke="#000" stroke-width="1.55" stroke-linejoin="round"/>
<path d="M255.00,427.22 H310.80 V432.12 H255.00 Z" fill="#fff" stroke="#000" stroke-width="1.55" stroke-linejoin="round"/>
<path d="M255.00,439.64 H310.80 V444.54 H255.00 Z" fill="#fff" stroke="#000" stroke-width="1.55" stroke-linejoin="round"/>
<path d="M255.00,452.06 H310.80 V456.96 H255.00 Z" fill="#fff" stroke="#000" stroke-width="1.55" stroke-linejoin="round"/>
<path d="M255.00,464.48 H310.80 V469.38 H255.00 Z" fill="#fff" stroke="#000" stroke-width="1.55" stroke-linejoin="round"/>
<path d="M255.00,476.90 H310.80 V481.80 H255.00 Z" fill="#fff" stroke="#000" stroke-width="1.55" stroke-linejoin="round"/>
<path d="M255.00,489.32 H310.80 V494.22 H255.00 Z" fill="#fff" stroke="#000" stroke-width="1.55" stroke-linejoin="round"/>
<path d="M255.00,501.74 H310.80 V506.64 H255.00 Z" fill="#fff" stroke="#000" stroke-width="1.55" stroke-linejoin="round"/>
<path d="M255.00,514.16 H310.80 V519.06 H255.00 Z" fill="#fff" stroke="#000" stroke-width="1.55" stroke-linejoin="round"/>
<path d="M255.00,526.58 H310.80 V531.48 H255.00 Z" fill="#fff" stroke="#000" stroke-width="1.55" stroke-linejoin="round"/>
<path d="M255.00,539.00 H310.80 V543.90 H255.00 Z" fill="#fff" stroke="#000" stroke-width="1.55" stroke-linejoin="round"/>
<path d="M255.00,551.42 H310.80 V556.32 H255.00 Z" fill="#fff" stroke="#000" stroke-width="1.55" stroke-linejoin="round"/>
<path d="M255.00,563.84 H310.80 V568.74 H255.00 Z" fill="#fff" stroke="#000" stroke-width="1.55" stroke-linejoin="round"/>
<path d="M255.00,576.26 H310.80 V581.16 H255.00 Z" fill="#fff" stroke="#000" stroke-width="1.55" stroke-linejoin="round"/>
<rect x="275.00" y="411.00" width="15.70" height="173.90" fill="#fff" stroke="#000" stroke-width="1.55" stroke-linejoin="round"/>
<line x1="38.60" y1="409.00" x2="38.60" y2="442.00" stroke="#a4a4a4" stroke-width="1.15"/>
<line x1="38.10" y1="429.60" x2="58.50" y2="429.60" stroke="#bdbdbd" stroke-width="1.35"/>
<line x1="38.10" y1="441.80" x2="58.50" y2="441.80" stroke="#bdbdbd" stroke-width="1.35"/>
<line x1="38.60" y1="429.60" x2="38.60" y2="432.60" stroke="#444" stroke-width="1.3"/>
<line x1="38.60" y1="438.80" x2="38.60" y2="441.80" stroke="#444" stroke-width="1.3"/>
<line x1="38.50" y1="548.60" x2="38.50" y2="575.40" stroke="#a4a4a4" stroke-width="1.15"/>
<line x1="38.00" y1="551.40" x2="58.50" y2="551.40" stroke="#bdbdbd" stroke-width="1.35"/>
<line x1="38.00" y1="556.60" x2="58.50" y2="556.60" stroke="#bdbdbd" stroke-width="1.35"/>
<line x1="38.50" y1="548.40" x2="38.50" y2="551.40" stroke="#444" stroke-width="1.3"/>
<line x1="38.50" y1="556.60" x2="38.50" y2="559.60" stroke="#444" stroke-width="1.3"/>
<line x1="39.50" y1="607.50" x2="39.50" y2="663.40" stroke="#a4a4a4" stroke-width="1.15"/>
<line x1="39.00" y1="608.00" x2="59.00" y2="608.00" stroke="#bdbdbd" stroke-width="1.35"/>
<line x1="39.00" y1="663.20" x2="59.00" y2="663.20" stroke="#bdbdbd" stroke-width="1.35"/>
<line x1="39.50" y1="608.00" x2="39.50" y2="611.00" stroke="#444" stroke-width="1.3"/>
<line x1="39.50" y1="660.20" x2="39.50" y2="663.20" stroke="#444" stroke-width="1.3"/>
<g id="r3a" transform="translate(34.65,424.85) rotate(-90) scale(0.870,0.975) skewX(-17)" fill="none" stroke="#222" stroke-width="1.2" vector-effect="non-scaling-stroke" stroke-linecap="round" stroke-linejoin="round"><path vector-effect="non-scaling-stroke" transform="translate(0.00,0)" d="M0,-7.4 C0,-9 1.1,-10 2.5,-10 C3.9,-10 5,-9 5,-7.5 C5,-6.3 4.4,-5.5 3.6,-4.6 L0,0 H5"/><path vector-effect="non-scaling-stroke" transform="translate(7.00,0)" d="M4.8,-10 H0.9 L0.4,-5.6 C0.9,-6.1 1.7,-6.4 2.6,-6.4 C4.1,-6.4 5,-5.2 5,-3.2 C5,-1.2 3.9,0 2.5,0 C1.2,0 0.3,-0.7 0,-1.8"/></g>
<g id="r3b" transform="translate(34.80,573.70) rotate(-90) scale(1.020,0.975) skewX(-17)" fill="none" stroke="#222" stroke-width="1.2" vector-effect="non-scaling-stroke" stroke-linecap="round" stroke-linejoin="round"><path vector-effect="non-scaling-stroke" transform="translate(0.00,0)" d="M0.6,-7.2 L3.2,-10 V0"/><path vector-effect="non-scaling-stroke" transform="translate(5.20,0)" d="M2.5,-10 C4.3,-10 5,-8.6 5,-7 V-3 C5,-1.4 4.3,0 2.5,0 C0.7,0 0,-1.4 0,-3 V-7 C0,-8.6 0.7,-10 2.5,-10 Z"/></g>
<g id="r3c" transform="translate(35.55,644.85) rotate(-90) scale(0.970,0.940) skewX(-17)" fill="none" stroke="#222" stroke-width="1.2" vector-effect="non-scaling-stroke" stroke-linecap="round" stroke-linejoin="round"><path vector-effect="non-scaling-stroke" transform="translate(0.00,0)" d="M0.6,-7.2 L3.2,-10 V0"/><path vector-effect="non-scaling-stroke" transform="translate(5.20,0)" d="M0.6,-7.2 L3.2,-10 V0"/><path vector-effect="non-scaling-stroke" transform="translate(10.40,0)" d="M0,-7.4 C0,-9 1.1,-10 2.5,-10 C3.9,-10 5,-9 5,-7.5 C5,-6.3 4.4,-5.5 3.6,-4.6 L0,0 H5"/></g>
<rect x="59.80" y="608.00" width="165.00" height="19.10" fill="#fff" stroke="#000" stroke-width="1.55" stroke-linejoin="round"/>
<rect x="59.80" y="644.00" width="165.00" height="19.20" fill="#fff" stroke="#000" stroke-width="1.55" stroke-linejoin="round"/>
<circle cx="68.00" cy="635.60" r="7.70" fill="#fff" stroke="#000" stroke-width="1.55"/>
<circle cx="68.00" cy="635.60" r="3.95" fill="#fff" stroke="#000" stroke-width="1.55"/>
<circle cx="216.90" cy="635.60" r="7.70" fill="#fff" stroke="#000" stroke-width="1.55"/>
<circle cx="216.90" cy="635.60" r="3.95" fill="#fff" stroke="#000" stroke-width="1.55"/>
<g id="t4_0" transform="translate(446.52,378.00) skewX(-19) scale(0.9358,0.7700)" fill="none" stroke="#111" stroke-width="1.4" vector-effect="non-scaling-stroke" stroke-linecap="round" stroke-linejoin="round"><path vector-effect="non-scaling-stroke" transform="translate(0.00,0)" d="M0,0 V-8.5 Q0,-10 1.5,-10 H3.7 Q5.2,-10 5.2,-8.5 V0"/><path vector-effect="non-scaling-stroke" transform="translate(7.60,0)" d="M1.5,-6.8 H2.2 Q3.7,-6.8 3.7,-5.3 V-1.5 Q3.7,0 2.2,0 H1.5 Q0,0 0,-1.5 V-5.3 Q0,-6.8 1.5,-6.8 Z M3.7,-6.8 V0"/><path vector-effect="non-scaling-stroke" transform="translate(13.70,0)" d="M1.5,-6.8 H2.2 Q3.7,-6.8 3.7,-5.3 V-1.5 Q3.7,0 2.2,0 H1.5 Q0,0 0,-1.5 V-5.3 Q0,-6.8 1.5,-6.8 Z M0,-5.8 V3"/><path vector-effect="non-scaling-stroke" transform="translate(19.80,0)" d="M1.5,-6.8 H2.2 Q3.7,-6.8 3.7,-5.3 V-1.5 Q3.7,0 2.2,0 H1.5 Q0,0 0,-1.5 V-5.3 Q0,-6.8 1.5,-6.8 Z M3.7,-6.8 V0"/><path vector-effect="non-scaling-stroke" transform="translate(25.90,0)" d="M-0.4,0 Q0.6,0 0.7,-1.6 V-5.3 Q0.7,-6.8 2.2,-6.8 H3.7 V0"/><path vector-effect="non-scaling-stroke" transform="translate(32.00,0)" d="M-0.4,0 Q0.6,0 0.7,-1.6 V-5.3 Q0.7,-6.8 2.2,-6.8 H3.7 V0"/><path vector-effect="non-scaling-stroke" transform="translate(38.10,0)" d="M0.1,-3.5 H3.7 V-5.3 Q3.7,-6.8 2.2,-6.8 H1.5 Q0,-6.8 0,-5.3 V-1.5 Q0,0 1.5,0 H3.4000000000000004"/><path vector-effect="non-scaling-stroke" transform="translate(44.20,0)" d="M-0.4,0 Q0.6,0 0.7,-1.6 V-5.3 Q0.7,-6.8 2.2,-6.8 H3.7 V0"/><path vector-effect="non-scaling-stroke" transform="translate(50.30,0)" d="M0,-6.8 V-1.5 Q0,0 1.5,0 H2.2 Q3.7,0 3.7,-1.5 M3.7,-6.8 V0"/></g>
<g id="t4_1" transform="translate(504.52,378.00) skewX(-19) scale(0.6900,0.7700)" fill="none" stroke="#111" stroke-width="1.4" vector-effect="non-scaling-stroke" stroke-linecap="round" stroke-linejoin="round"><path vector-effect="non-scaling-stroke" transform="translate(0.00,0)" d="M0,0 V-10 H4.6"/><path vector-effect="non-scaling-stroke" transform="translate(7.00,0)" d="M0,-7.4 C0,-9 1.1,-10 2.5,-10 C3.9,-10 5,-9 5,-7.5 C5,-6.3 4.4,-5.5 3.6,-4.6 L0,0 H5"/></g>
<g id="t4_2" transform="translate(521.38,378.00) skewX(-19) scale(0.8613,0.7700)" fill="none" stroke="#111" stroke-width="1.4" vector-effect="non-scaling-stroke" stroke-linecap="round" stroke-linejoin="round"><path vector-effect="non-scaling-stroke" transform="translate(0.00,0)" d="M0,-6.8 V-1.5 Q0,0 1.5,0 H4.5 Q6,0 6,-1.5 V-6.8 M3,-6.8 V0"/><path vector-effect="non-scaling-stroke" transform="translate(8.40,0)" d="M1.5,-6.8 H2.2 Q3.7,-6.8 3.7,-5.3 V-1.5 Q3.7,0 2.2,0 H1.5 Q0,0 0,-1.5 V-5.3 Q0,-6.8 1.5,-6.8 Z M3.7,-6.8 V0"/><path vector-effect="non-scaling-stroke" transform="translate(14.50,0)" d="M0,0 V-5.3 Q0,-6.8 1.5,-6.8 H3.6"/></g>
<g id="t4_3" transform="translate(545.76,378.00) skewX(-19) scale(0.7280,0.7700)" fill="none" stroke="#111" stroke-width="1.4" vector-effect="non-scaling-stroke" stroke-linecap="round" stroke-linejoin="round"><path vector-effect="non-scaling-stroke" transform="translate(0.00,0)" d="M0,-8.3 C0.3,-9.4 1.2,-10 2.5,-10 C3.9,-10 4.8,-9.1 4.8,-7.8 C4.8,-6.4 3.8,-5.5 2.3,-5.5 C4,-5.5 5,-4.3 5,-2.8 C5,-1.1 3.9,0 2.5,0 C1.1,0 0.2,-0.8 0,-2"/><path vector-effect="non-scaling-stroke" transform="translate(7.40,0)" d="M2.5,-10 C4.3,-10 5,-8.6 5,-7 V-3 C5,-1.4 4.3,0 2.5,0 C0.7,0 0,-1.4 0,-3 V-7 C0,-8.6 0.7,-10 2.5,-10 Z"/></g>
<g id="s4_0" transform="translate(429.55,396.55) skewX(-19) scale(0.9159,0.8900)" fill="none" stroke="#222" stroke-width="1.1" vector-effect="non-scaling-stroke" stroke-linecap="round" stroke-linejoin="round"><path vector-effect="non-scaling-stroke" transform="translate(0.00,0)" d="M0,0 V-10 L3,-3.6 L6,-10 V0"/><path vector-effect="non-scaling-stroke" transform="translate(8.40,0)" d="M0.1,-3.5 H3.7 V-5.3 Q3.7,-6.8 2.2,-6.8 H1.5 Q0,-6.8 0,-5.3 V-1.5 Q0,0 1.5,0 H3.4000000000000004"/><path vector-effect="non-scaling-stroke" transform="translate(14.50,0)" d="M0,-6.8 L5.8,0 M5.8,-6.8 L0,0 M2.9,-6.8 V0"/><path vector-effect="non-scaling-stroke" transform="translate(22.70,0)" d="M0,-6.8 V-1.5 Q0,0 1.5,0 H4.5 M3.7,-6.8 V0 M4.5,0 V2.6"/><path vector-effect="non-scaling-stroke" transform="translate(29.60,0)" d="M0.1,-3.5 H3.7 V-5.3 Q3.7,-6.8 2.2,-6.8 H1.5 Q0,-6.8 0,-5.3 V-1.5 Q0,0 1.5,0 H3.4000000000000004"/><path vector-effect="non-scaling-stroke" transform="translate(35.70,0)" d="M0,-6.8 V0 M0,-3.4 H3.7 M3.7,-6.8 V0"/><path vector-effect="non-scaling-stroke" transform="translate(41.80,0)" d="M0,0 V-5.3 Q0,-6.8 1.5,-6.8 H4.5 Q6,-6.8 6,-5.3 V0 M3,-6.8 V0"/><path vector-effect="non-scaling-stroke" transform="translate(50.20,0)" d="M1.5,-6.8 H2.2 Q3.7,-6.8 3.7,-5.3 V-1.5 Q3.7,0 2.2,0 H1.5 Q0,0 0,-1.5 V-5.3 Q0,-6.8 1.5,-6.8 Z M0,-5.8 V3"/><path vector-effect="non-scaling-stroke" transform="translate(56.30,0)" d="M1.5,-6.8 H2.2 Q3.7,-6.8 3.7,-5.3 V-1.5 Q3.7,0 2.2,0 H1.5 Q0,0 0,-1.5 V-5.3 Q0,-6.8 1.5,-6.8 Z"/><path vector-effect="non-scaling-stroke" transform="translate(62.40,0)" d="M1.5,-6.8 H2.2 Q3.7,-6.8 3.7,-5.3 V-1.5 Q3.7,0 2.2,0 H1.5 Q0,0 0,-1.5 V-5.3 Q0,-6.8 1.5,-6.8 Z M0,-5.3 V-9 Q0,-10 1.5,-10 H3.7"/><path vector-effect="non-scaling-stroke" transform="translate(68.50,0)" d="M1.5,-6.8 H2.2 Q3.7,-6.8 3.7,-5.3 V-1.5 Q3.7,0 2.2,0 H1.5 Q0,0 0,-1.5 V-5.3 Q0,-6.8 1.5,-6.8 Z"/><path vector-effect="non-scaling-stroke" transform="translate(74.60,0)" d="M0.1,-3.5 H3.7 V-5.3 Q3.7,-6.8 2.2,-6.8 H1.5 Q0,-6.8 0,-5.3 V-1.5 Q0,0 1.5,0 H3.4000000000000004"/></g>
<g id="s4_1" transform="translate(506.81,396.55) skewX(-19) scale(0.9196,0.8900)" fill="none" stroke="#222" stroke-width="1.1" vector-effect="non-scaling-stroke" stroke-linecap="round" stroke-linejoin="round"><path vector-effect="non-scaling-stroke" transform="translate(0.00,0)" d="M1.5,-6.8 H2.2 Q3.7,-6.8 3.7,-5.3 V-1.5 Q3.7,0 2.2,0 H1.5 Q0,0 0,-1.5 V-5.3 Q0,-6.8 1.5,-6.8 Z M0,-5.8 V3"/><path vector-effect="non-scaling-stroke" transform="translate(6.10,0)" d="M1.5,-6.8 H2.2 Q3.7,-6.8 3.7,-5.3 V-1.5 Q3.7,0 2.2,0 H1.5 Q0,0 0,-1.5 V-5.3 Q0,-6.8 1.5,-6.8 Z M3.7,-6.8 V0"/><path vector-effect="non-scaling-stroke" transform="translate(12.20,0)" d="M3.7,-5.6 Q3.5,-6.8 2.2,-6.8 H1.5 Q0,-6.8 0,-5.3 V-1.5 Q0,0 1.5,0 H2.2 Q3.5,0 3.7,-1.2"/><path vector-effect="non-scaling-stroke" transform="translate(18.30,0)" d="M0,0 V-5.3 Q0,-6.8 1.5,-6.8 H4.5 Q6,-6.8 6,-5.3 V0 M3,-6.8 V0"/><path vector-effect="non-scaling-stroke" transform="translate(26.70,0)" d="M1.5,-6.8 H2.2 Q3.7,-6.8 3.7,-5.3 V-1.5 Q3.7,0 2.2,0 H1.5 Q0,0 0,-1.5 V-5.3 Q0,-6.8 1.5,-6.8 Z"/><path vector-effect="non-scaling-stroke" transform="translate(32.80,0)" d="M3.7,0 V-6.8 H1.5 Q0,-6.8 0,-5.3 V-4.8 Q0,-3.4 1.5,-3.4 H3.7 M2,-3.4 L0,0"/><path vector-effect="non-scaling-stroke" transform="translate(38.90,0)" d="M0,-6.8 V0 M0,-3.4 H3.7 M3.7,-6.8 V0"/><path vector-effect="non-scaling-stroke" transform="translate(45.00,0)" d="M0,-6.8 V-1.5 Q0,0 1.5,0 H2.2 Q3.7,0 3.7,-1.5 M3.7,-6.8 V0"/><path vector-effect="non-scaling-stroke" transform="translate(51.10,0)" d="M0.1,-3.5 H3.7 V-5.3 Q3.7,-6.8 2.2,-6.8 H1.5 Q0,-6.8 0,-5.3 V-1.5 Q0,0 1.5,0 H3.4000000000000004"/><path vector-effect="non-scaling-stroke" transform="translate(57.20,0)" d="M0.5,-0.6 L-0.5,2"/></g>
<g id="s4_2" transform="translate(565.49,396.55) skewX(-19) scale(0.7504,0.8900)" fill="none" stroke="#222" stroke-width="1.1" vector-effect="non-scaling-stroke" stroke-linecap="round" stroke-linejoin="round"><path vector-effect="non-scaling-stroke" transform="translate(0.00,0)" d="M0,0 V-6.8 L2.7,-2.4 L5.4,-6.8 V0"/><path vector-effect="non-scaling-stroke" transform="translate(7.80,0)" d="M0,0 V-6.8 L2.7,-2.4 L5.4,-6.8 V0"/></g>
<line x1="428.00" y1="401.00" x2="577.70" y2="401.00" stroke="#a4a4a4" stroke-width="1.15"/>
<line x1="428.00" y1="401.00" x2="428.00" y2="410.00" stroke="#bdbdbd" stroke-width="1.15"/>
<line x1="577.70" y1="401.00" x2="577.70" y2="410.00" stroke="#bdbdbd" stroke-width="1.15"/>
<line x1="428.00" y1="401.00" x2="431.00" y2="401.00" stroke="#444" stroke-width="1.3"/>
<line x1="574.70" y1="401.00" x2="577.70" y2="401.00" stroke="#444" stroke-width="1.3"/>
<rect x="420.30" y="410.70" width="15.60" height="179.20" fill="#fff" stroke="#000" stroke-width="1.55" stroke-linejoin="round"/>
<rect x="569.30" y="410.70" width="15.90" height="179.20" fill="#fff" stroke="#000" stroke-width="1.55" stroke-linejoin="round"/>
<path d="M419.85,416.00 H585.65 V420.80 H419.85 Z" fill="#fff" stroke="#000" stroke-width="1.55" stroke-linejoin="round"/>
<path d="M419.85,430.90 H585.65 V435.70 H419.85 Z" fill="#fff" stroke="#000" stroke-width="1.55" stroke-linejoin="round"/>
<path d="M419.85,445.80 H585.65 V450.60 H419.85 Z" fill="#fff" stroke="#000" stroke-width="1.55" stroke-linejoin="round"/>
<path d="M419.85,460.70 H585.65 V465.50 H419.85 Z" fill="#fff" stroke="#000" stroke-width="1.55" stroke-linejoin="round"/>
<path d="M419.85,475.60 H585.65 V480.40 H419.85 Z" fill="#fff" stroke="#000" stroke-width="1.55" stroke-linejoin="round"/>
<path d="M419.85,490.50 H585.65 V495.30 H419.85 Z" fill="#fff" stroke="#000" stroke-width="1.55" stroke-linejoin="round"/>
<path d="M419.85,505.40 H585.65 V510.20 H419.85 Z" fill="#fff" stroke="#000" stroke-width="1.55" stroke-linejoin="round"/>
<path d="M419.85,520.30 H585.65 V525.10 H419.85 Z" fill="#fff" stroke="#000" stroke-width="1.55" stroke-linejoin="round"/>
<path d="M419.85,535.20 H585.65 V540.00 H419.85 Z" fill="#fff" stroke="#000" stroke-width="1.55" stroke-linejoin="round"/>
<path d="M419.85,550.10 H585.65 V554.90 H419.85 Z" fill="#fff" stroke="#000" stroke-width="1.55" stroke-linejoin="round"/>
<path d="M419.85,565.00 H585.65 V569.80 H419.85 Z" fill="#fff" stroke="#000" stroke-width="1.55" stroke-linejoin="round"/>
<path d="M419.85,579.90 H585.65 V584.70 H419.85 Z" fill="#fff" stroke="#000" stroke-width="1.55" stroke-linejoin="round"/>
<path d="M631.80,415.90 H687.20 V420.90 H631.80 Z" fill="#fff" stroke="#000" stroke-width="1.55" stroke-linejoin="round"/>
<path d="M631.80,430.83 H687.20 V435.83 H631.80 Z" fill="#fff" stroke="#000" stroke-width="1.55" stroke-linejoin="round"/>
<path d="M631.80,445.76 H687.20 V450.76 H631.80 Z" fill="#fff" stroke="#000" stroke-width="1.55" stroke-linejoin="round"/>
<path d="M631.80,460.69 H687.20 V465.69 H631.80 Z" fill="#fff" stroke="#000" stroke-width="1.55" stroke-linejoin="round"/>
<path d="M631.80,475.62 H687.20 V480.62 H631.80 Z" fill="#fff" stroke="#000" stroke-width="1.55" stroke-linejoin="round"/>
<path d="M631.80,490.55 H687.20 V495.55 H631.80 Z" fill="#fff" stroke="#000" stroke-width="1.55" stroke-linejoin="round"/>
<path d="M631.80,505.48 H687.20 V510.48 H631.80 Z" fill="#fff" stroke="#000" stroke-width="1.55" stroke-linejoin="round"/>
<path d="M631.80,520.41 H687.20 V525.41 H631.80 Z" fill="#fff" stroke="#000" stroke-width="1.55" stroke-linejoin="round"/>
<path d="M631.80,535.34 H687.20 V540.34 H631.80 Z" fill="#fff" stroke="#000" stroke-width="1.55" stroke-linejoin="round"/>
<path d="M631.80,550.27 H687.20 V555.27 H631.80 Z" fill="#fff" stroke="#000" stroke-width="1.55" stroke-linejoin="round"/>
<path d="M631.80,565.20 H687.20 V570.20 H631.80 Z" fill="#fff" stroke="#000" stroke-width="1.55" stroke-linejoin="round"/>
<path d="M631.80,580.13 H687.20 V585.13 H631.80 Z" fill="#fff" stroke="#000" stroke-width="1.55" stroke-linejoin="round"/>
<rect x="651.80" y="411.00" width="15.70" height="178.90" fill="#fff" stroke="#000" stroke-width="1.55" stroke-linejoin="round"/>
<line x1="398.80" y1="413.00" x2="398.80" y2="448.00" stroke="#a4a4a4" stroke-width="1.15"/>
<line x1="398.30" y1="433.50" x2="420.00" y2="433.50" stroke="#bdbdbd" stroke-width="1.35"/>
<line x1="398.30" y1="448.00" x2="420.00" y2="448.00" stroke="#bdbdbd" stroke-width="1.35"/>
<line x1="398.80" y1="433.50" x2="398.80" y2="436.50" stroke="#444" stroke-width="1.3"/>
<line x1="398.80" y1="445.00" x2="398.80" y2="448.00" stroke="#444" stroke-width="1.3"/>
<line x1="398.60" y1="535.10" x2="398.60" y2="561.40" stroke="#a4a4a4" stroke-width="1.15"/>
<line x1="398.10" y1="554.20" x2="420.00" y2="554.20" stroke="#bdbdbd" stroke-width="1.35"/>
<line x1="398.10" y1="559.10" x2="420.00" y2="559.10" stroke="#bdbdbd" stroke-width="1.35"/>
<line x1="398.60" y1="551.20" x2="398.60" y2="554.20" stroke="#444" stroke-width="1.3"/>
<line x1="398.60" y1="559.10" x2="398.60" y2="562.10" stroke="#444" stroke-width="1.3"/>
<line x1="399.00" y1="607.50" x2="399.00" y2="663.40" stroke="#a4a4a4" stroke-width="1.15"/>
<line x1="398.50" y1="608.00" x2="419.50" y2="608.00" stroke="#bdbdbd" stroke-width="1.35"/>
<line x1="398.50" y1="663.20" x2="419.50" y2="663.20" stroke="#bdbdbd" stroke-width="1.35"/>
<line x1="399.00" y1="608.00" x2="399.00" y2="611.00" stroke="#444" stroke-width="1.3"/>
<line x1="399.00" y1="660.20" x2="399.00" y2="663.20" stroke="#444" stroke-width="1.3"/>
<g id="r4a" transform="translate(395.20,429.50) rotate(-90) scale(0.970,1.080) skewX(-17)" fill="none" stroke="#222" stroke-width="1.2" vector-effect="non-scaling-stroke" stroke-linecap="round" stroke-linejoin="round"><path vector-effect="non-scaling-stroke" transform="translate(0.00,0)" d="M0,-8.3 C0.3,-9.4 1.2,-10 2.5,-10 C3.9,-10 4.8,-9.1 4.8,-7.8 C4.8,-6.4 3.8,-5.5 2.3,-5.5 C4,-5.5 5,-4.3 5,-2.8 C5,-1.1 3.9,0 2.5,0 C1.1,0 0.2,-0.8 0,-2"/><path vector-effect="non-scaling-stroke" transform="translate(7.00,0)" d="M2.5,-10 C4.3,-10 5,-8.6 5,-7 V-3 C5,-1.4 4.3,0 2.5,0 C0.7,0 0,-1.4 0,-3 V-7 C0,-8.6 0.7,-10 2.5,-10 Z"/></g>
<g id="r4b" transform="translate(395.65,550.95) rotate(-90) scale(0.995,1.010) skewX(-17)" fill="none" stroke="#222" stroke-width="1.2" vector-effect="non-scaling-stroke" stroke-linecap="round" stroke-linejoin="round"><path vector-effect="non-scaling-stroke" transform="translate(0.00,0)" d="M0.6,-7.2 L3.2,-10 V0"/><path vector-effect="non-scaling-stroke" transform="translate(5.20,0)" d="M2.5,-10 C4.3,-10 5,-8.6 5,-7 V-3 C5,-1.4 4.3,0 2.5,0 C0.7,0 0,-1.4 0,-3 V-7 C0,-8.6 0.7,-10 2.5,-10 Z"/></g>
<g id="r4c" transform="translate(395.65,644.85) rotate(-90) scale(0.970,1.010) skewX(-17)" fill="none" stroke="#222" stroke-width="1.2" vector-effect="non-scaling-stroke" stroke-linecap="round" stroke-linejoin="round"><path vector-effect="non-scaling-stroke" transform="translate(0.00,0)" d="M0.6,-7.2 L3.2,-10 V0"/><path vector-effect="non-scaling-stroke" transform="translate(5.20,0)" d="M0.6,-7.2 L3.2,-10 V0"/><path vector-effect="non-scaling-stroke" transform="translate(10.40,0)" d="M0,-7.4 C0,-9 1.1,-10 2.5,-10 C3.9,-10 5,-9 5,-7.5 C5,-6.3 4.4,-5.5 3.6,-4.6 L0,0 H5"/></g>
<rect x="419.90" y="608.00" width="165.80" height="19.10" fill="#fff" stroke="#000" stroke-width="1.55" stroke-linejoin="round"/>
<rect x="419.90" y="644.00" width="165.80" height="19.20" fill="#fff" stroke="#000" stroke-width="1.55" stroke-linejoin="round"/>
<circle cx="427.80" cy="635.60" r="7.70" fill="#fff" stroke="#000" stroke-width="1.55"/>
<circle cx="427.80" cy="635.60" r="3.95" fill="#fff" stroke="#000" stroke-width="1.55"/>
<circle cx="577.30" cy="635.60" r="7.70" fill="#fff" stroke="#000" stroke-width="1.55"/>
<circle cx="577.30" cy="635.60" r="3.95" fill="#fff" stroke="#000" stroke-width="1.55"/>
</svg>
</body></html>
